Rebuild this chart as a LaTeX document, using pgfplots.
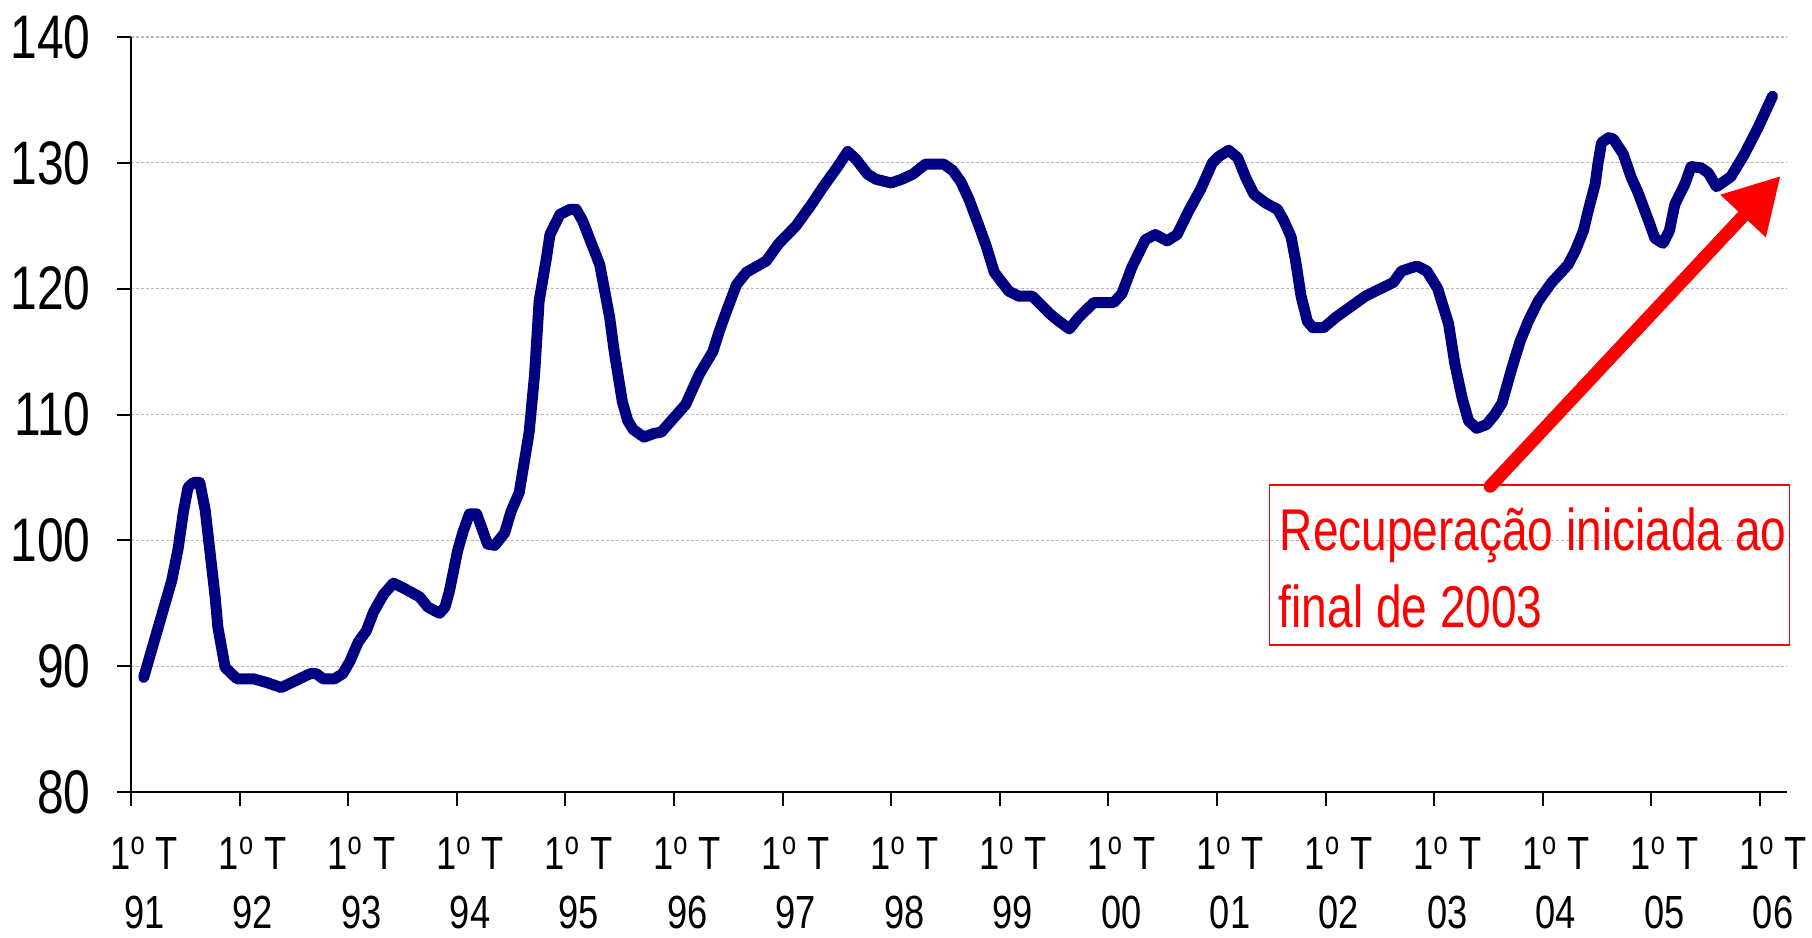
\documentclass[border=0pt]{standalone}
\usepackage{fontspec}
\setmainfont{Liberation Sans}[FakeStretch=0.78]
\usepackage{pgfplots}
\pgfplotsset{compat=1.18}
\usetikzlibrary{arrows.meta}
\definecolor{navyline}{RGB}{0,0,128}
\definecolor{gridgray}{RGB}{185,185,185}
\pgfplotstableread{
t v
1.4 89.1
4.5 96.8
5.2 99.3
5.8 102.3
6.3 104.2
6.9 104.6
7.6 104.6
8.2 102.4
9.3 95.5
9.6 93.1
10.4 89.9
11.7 89.0
13.5 89.0
15.0 88.7
16.6 88.3
19.8 89.4
20.5 89.4
21.2 89.0
22.5 89.0
23.4 89.4
24.2 90.4
25.1 91.9
26.0 92.8
26.8 94.3
27.9 95.7
29.0 96.6
30.4 96.1
31.9 95.5
32.8 94.7
34.1 94.2
34.7 94.7
35.2 96.0
36.1 99.2
36.7 100.7
37.4 102.1
38.2 102.1
39.4 99.7
40.2 99.6
41.3 100.6
42.0 102.3
42.9 103.8
43.5 106.4
44.0 108.6
44.6 113.2
45.1 119.0
45.9 122.4
46.3 124.3
47.4 125.9
48.5 126.3
49.2 126.3
49.9 125.4
51.8 121.9
52.9 117.7
53.4 115.0
54.3 111.0
54.9 109.5
55.5 108.8
56.7 108.2
57.8 108.5
58.6 108.6
59.7 109.5
61.3 110.8
62.8 113.2
64.3 115.0
65.0 116.6
65.8 118.2
66.9 120.3
68.0 121.3
70.2 122.2
71.6 123.6
73.5 125.0
75.3 126.8
76.4 128.0
77.2 128.8
78.1 129.7
79.2 130.9
80.1 130.3
81.4 129.1
82.3 128.7
84.0 128.4
85.2 128.7
86.4 129.1
87.8 129.9
89.8 129.9
90.8 129.4
91.7 128.5
92.6 127.1
93.7 125.0
94.5 123.4
95.4 121.3
97.0 119.8
98.1 119.4
99.6 119.4
101.4 118.1
102.2 117.6
103.7 116.8
104.7 117.7
106.4 118.9
108.6 118.9
109.5 119.6
110.6 121.7
112.1 123.9
113.2 124.3
114.5 123.8
115.6 124.3
116.9 126.2
118.2 127.9
119.5 130.0
120.2 130.5
121.3 131.0
122.3 130.4
123.2 128.8
124.1 127.5
125.4 126.8
126.7 126.3
127.4 125.4
128.2 124.1
128.7 122.2
129.3 119.4
130.0 117.4
130.6 116.9
131.8 116.9
133.1 117.7
136.4 119.4
139.5 120.5
140.4 121.4
142.1 121.8
143.2 121.4
144.4 120.0
145.6 117.2
146.3 114.0
147.1 111.3
147.8 109.5
148.7 108.9
149.8 109.2
150.7 110.0
151.5 110.9
152.6 113.7
153.5 115.8
154.4 117.4
155.5 119.0
157.0 120.5
158.8 121.9
159.6 123.0
160.5 124.6
161.1 126.4
161.8 128.3
162.1 129.9
162.5 131.6
163.3 132.0
163.8 131.9
164.9 130.7
165.8 128.8
166.5 127.7
167.7 125.4
168.4 124.0
169.3 123.6
170.0 124.6
170.6 126.7
171.7 128.3
172.4 129.7
173.5 129.6
174.3 129.2
175.2 128.1
176.8 128.9
178.3 130.7
179.8 132.8
181.4 135.3
}\series
\begin{document}
\begin{tikzpicture}
\path[use as bounding box] (-52.4pt,-58pt) rectangle (672.4pt,316.8pt);
\begin{axis}[
  at={(0,0)}, anchor=south west,
  scale only axis, width=662.4pt, height=302pt,
  xmin=0, xmax=183, ymin=80, ymax=140,
  axis x line=bottom, axis y line=left,
  axis line style={-, line width=0.8pt, black},
  tick style={black, line width=0.8pt},
  major tick length=5.6pt, tick align=outside,
  xtick={0,12,...,180},
  xticklabels={{1\textsuperscript{o} T\\91},{1\textsuperscript{o} T\\92},{1\textsuperscript{o} T\\93},{1\textsuperscript{o} T\\94},{1\textsuperscript{o} T\\95},{1\textsuperscript{o} T\\96},{1\textsuperscript{o} T\\97},{1\textsuperscript{o} T\\98},{1\textsuperscript{o} T\\99},{1\textsuperscript{o} T\\00},{1\textsuperscript{o} T\\01},{1\textsuperscript{o} T\\02},{1\textsuperscript{o} T\\03},{1\textsuperscript{o} T\\04},{1\textsuperscript{o} T\\05},{1\textsuperscript{o} T\\06}},
  xticklabel style={align=center, inner sep=0pt, font=\fontsize{18.6pt}{23.5pt}\selectfont, xshift=5.3pt, yshift=-12pt},
  ytick={80,90,...,140},
  yticklabel style={font=\fontsize{24.6pt}{28pt}\selectfont, xshift=-7pt},
  /pgf/number format/assume math mode=true,
  ymajorgrids,
  major grid style={gridgray, line width=0.45pt, dash pattern=on 1.2pt off 0.8pt},
  clip=false,
]
\addplot[navyline, line width=4.4pt, line join=round, line cap=round] table[x=t, y=v] {\series};
\draw[red, line width=0.6pt] (axis cs:125.8,104.4) rectangle (axis cs:183.3,91.7);
\node[anchor=base west, text=red, font=\fontsize{23.6pt}{30.8pt}\selectfont, inner sep=0pt] at (axis cs:126.9,99.23) {Recuperação iniciada ao};
\node[anchor=base west, text=red, font=\fontsize{23.6pt}{30.8pt}\selectfont, inner sep=0pt] at (axis cs:126.8,93.11) {final de 2003};
\draw[red, line width=5.2pt, line cap=round, -{Triangle[length=22pt,width=23.4pt]}] (axis cs:150.2,104.3) -- (axis cs:182.3,128.96);
\end{axis}
\end{tikzpicture}
\end{document}
